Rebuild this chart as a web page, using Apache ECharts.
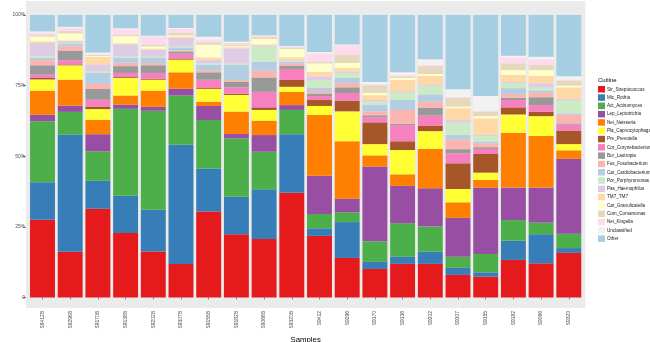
<!DOCTYPE html>
<html><head><meta charset="utf-8">
<script src="https://cdn.jsdelivr.net/npm/echarts@6/dist/echarts.min.js"></script>
<style>html,body{margin:0;padding:0;background:#fff}#c{width:650px;height:342px}</style>
</head><body><div id="c"></div>
<script>
const samples = ["S9412B","S9296B","S9170B","S9138B","S9202B","S9307B","S9155B","S9182B","S9066B","S9320B","S9412","S9296","S9170","S9138","S9202","S9307","S9155","S9182","S9066","S9320"];
const yTicks = ["0","25%","50%","75%","100%"];
const taxa = ["Str_Streptococcus","Mic_Rothia","Act_Actinomyces","Lep_Leptotrichia","Nei_Neisseria","Pla_Capnocytophaga","Pre_Prevotella","Cor_Corynebacterium","Bur_Lautropia","Fus_Fusobacterium","Car_Cardiobacterium","Por_Porphyromonas","Pas_Haemophilus","TM7_TM7","Car_Granulicatella","Com_Comamonas","Nei_Kingella","Unclassified","Other"];
const Str  = [27.5,16.2,31.4,22.8,16.3,11.9,30.4,22.4,20.7,37.1,21.8,14.0,10.1,11.9,11.9,8.0,7.4,13.3,12.1,15.8];
const Mic  = [13.3,41.4,9.9,13.2,14.8,42.2,15.3,13.3,17.6,20.7,2.7,12.7,2.5,2.5,4.3,2.5,1.5,6.8,10.3,1.7];
const Act  = [21.6,8.1,10.4,30.8,35.0,17.4,17.1,20.6,13.3,8.6,5.1,3.4,7.3,11.9,8.9,3.9,6.5,7.3,4.1,5.1];
const Lep  = [2.3,2.2,6.1,1.5,1.4,2.4,5.0,1.6,5.9,1.7,13.5,4.9,26.5,13.2,13.6,13.8,23.5,11.5,12.4,26.5];
const Nei  = [8.5,9.2,5.1,3.2,5.7,5.8,1.5,7.9,5.1,4.7,21.5,20.3,3.9,4.1,13.9,5.5,2.7,19.4,18.3,3.0];
const Pla  = [4.0,5.1,3.8,6.2,3.9,4.5,4.5,5.9,3.8,1.8,3.2,10.6,4.0,8.6,6.3,4.7,2.6,6.5,7.0,2.2];
const Pre  = [0.5,0.3,0.9,0.3,0.3,0.4,0.3,0.4,0.9,2.4,2.1,3.8,7.7,3.1,1.8,9.1,6.6,2.5,1.6,4.8];
const Cor  = [1.2,1.5,2.4,1.5,2.1,1.7,3.0,2.3,5.5,3.9,1.4,2.7,1.8,5.7,3.7,3.5,1.8,2.6,2.3,2.1];
const Bur  = [3.3,3.4,3.8,2.4,2.7,0.8,2.6,2.0,5.1,1.2,0.9,2.0,0.7,0.5,2.8,1.5,0.6,0.8,2.8,0.4];
const Fus  = [1.8,1.5,1.8,1.2,0.8,0.4,0.7,0.6,2.4,0.8,0.9,1.5,1.4,4.9,2.1,3.5,1.4,1.3,1.6,3.1];
const CarC = [0.8,0.8,3.9,1.8,1.8,1.0,2.0,5.3,3.2,0.5,1.2,1.8,2.4,3.5,2.6,1.5,0.6,2.1,0.8,0.5];
const Por  = [0.6,0.3,0.6,0.4,0.4,0.3,0.5,0.5,5.3,0.4,2.6,1.8,1.1,2.6,3.1,4.4,2.0,1.7,1.0,4.5];
const Pas  = [4.7,0.7,2.4,4.3,2.5,3.0,1.2,5.4,0.4,0.4,1.4,0.5,0.5,0.5,0.5,0.9,0.5,0.5,1.5,0.5];
const TM7  = [0.6,0.3,2.7,0.4,0.4,0.5,0.9,0.4,0.4,0.8,1.6,1.2,1.7,4.0,2.9,4.2,5.7,2.5,2.6,4.2];
const CarG = [1.7,2.5,0.3,2.5,0.8,0.5,4.5,0.4,2.0,3.0,3.0,1.8,0.8,0.7,0.7,0.6,0.8,1.7,2.1,0.6];
const Com  = [0.5,0.8,0.3,0.4,0.5,0.9,0.8,0.6,0.6,0.4,0.5,3.0,2.7,0.5,2.8,3.1,1.6,2.4,1.8,1.8];
const NeiK = [0.8,1.2,0.3,2.0,3.0,1.4,1.0,0.5,0.3,0.3,3.0,3.3,0.4,0.5,0.4,0.3,0.3,2.1,2.0,0.3];
const Uncl = [0.5,0.3,0.6,0.4,0.3,0.3,1.0,0.5,0.3,0.3,0.5,0.3,0.8,1.0,2.0,2.7,5.2,0.6,0.9,1.2];
const Other= [5.8,4.2,13.3,4.7,7.3,4.6,7.7,9.4,7.2,11.0,13.1,10.4,23.7,20.3,15.7,26.3,28.7,14.4,14.8,21.7];
const colors = ["#E41A1C","#377EB8","#4DAF4A","#984EA3","#FF7F00","#FFFF33","#A65628","#F781BF","#999999","#FBB4AE","#B3CDE3","#CCEBC5","#DECBE4","#FED9A6","#FFFFCC","#E5D8BD","#FDDAEC","#F2F2F2","#A6CEE3"];
const values = [Str,Mic,Act,Lep,Nei,Pla,Pre,Cor,Bur,Fus,CarC,Por,Pas,TM7,CarG,Com,NeiK,Uncl,Other];

const FONT = "'Liberation Sans', Arial, Helvetica, sans-serif";
const chart = echarts.init(document.getElementById('c'), null, {renderer:'canvas'});
chart.setOption({
  animation:false,
  color: colors,
  textStyle:{fontFamily:FONT},
  graphic:[{type:'rect', z:-10, shape:{x:26, y:1, width:559.4, height:307}, style:{fill:'#EBEBEB'}, silent:true}],
  title:{text:'Cutline', left:593, top:72, textStyle:{fontSize:6, fontWeight:'normal', color:'#000', fontFamily:FONT}},
  legend:{orient:'vertical', left:593, top:81, icon:'rect', itemWidth:7, itemHeight:6.5, itemGap:1.8,
    textStyle:{fontSize:4.6, color:'#1a1a1a', padding:[0,0,0,-3]}, data:taxa, selectedMode:false},
  grid:{left:28.65, right:650-582.65, top:15, bottom:44.5, containLabel:false, outerBoundsMode:'none'},
  xAxis:{type:'category', data:samples, offset:10.5,
    axisLine:{show:false}, axisTick:{show:true, length:2, alignWithLabel:true, lineStyle:{color:'#333', width:0.6}},
    axisLabel:{rotate:90, margin:3, fontSize:4.9, color:'#4D4D4D', interval:0},
    name:'Samples', nameLocation:'middle', nameGap:28, nameTextStyle:{fontSize:7.8, color:'#000'}},
  yAxis:{type:'value', min:0, max:100, interval:25, offset:2.65,
    axisLine:{show:false}, axisTick:{show:true, length:3, lineStyle:{color:'#333', width:0.6}},
    splitLine:{show:false},
    axisLabel:{margin:1, fontSize:4.9, color:'#4D4D4D', formatter:(v)=>yTicks[Math.round(v/25)]},
    name:'Relative Abundance', nameLocation:'middle', nameRotate:90, nameGap:10, nameTextStyle:{fontSize:7.8, color:'#000'}},
  series: taxa.map((t,i)=>({name:t, type:'bar', stack:'total', data:values[i], barCategoryGap:'10%', itemStyle:{color:colors[i]}}))
});
</script></body></html>
